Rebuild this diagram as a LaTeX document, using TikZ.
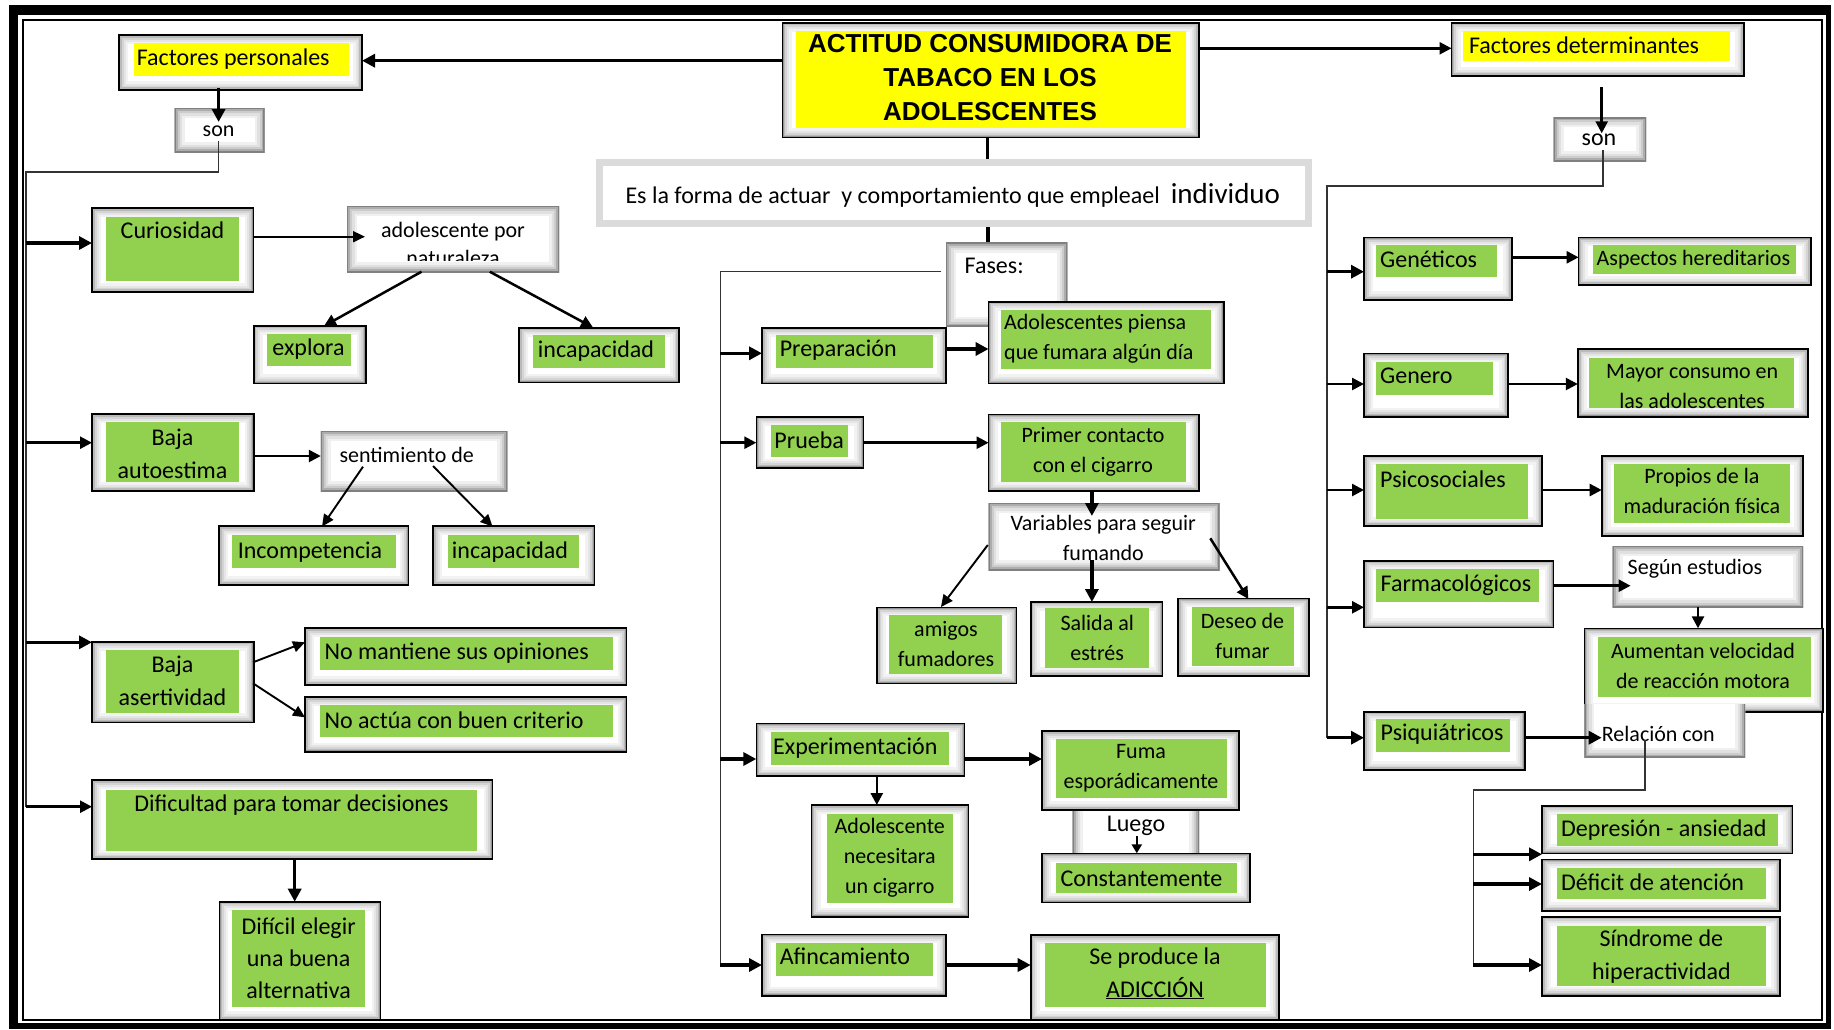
\documentclass[tikz,border=0pt]{standalone}
\usepackage{fontspec}
\setmainfont{Carlito}
\newfontfamily\titlefont{Liberation Sans}
\usetikzlibrary{arrows.meta,fit,calc}
\definecolor{grn}{HTML}{92D050}
\definecolor{ylw}{HTML}{FFFF00}
\begin{document}
\begin{tikzpicture}[x=1pt,y=-1pt,
  inshadow/.style={path picture={
    \foreach \w/\c in {18/5,13/10,9/17,5.5/27,2.5/42}{
      \draw[line width=\w pt, black!\c] (path picture bounding box.south west) rectangle (path picture bounding box.north east);}}},
  wshadow/.style={path picture={
    \foreach \w/\c in {20/6,15/12,10/20,6/32,2.5/50}{
      \draw[line width=\w pt, black!\c] (path picture bounding box.south west) rectangle (path picture bounding box.north east);}}},
  wshadowopen/.style={path picture={
    \foreach \w/\c in {20/6,15/12,10/20,6/32,2.5/50}{
      \draw[line width=\w pt, black!\c] (path picture bounding box.south west) rectangle ([yshift=30pt]path picture bounding box.north east);}}},
  gbx/.style={draw=black, line width=1.6pt, fill=white, inner sep=0pt, outer sep=0pt, inshadow},
  wbx/.style={draw=none, fill=white, inner sep=0pt, outer sep=0pt, wshadow},
  wbxo/.style={draw=none, fill=white, inner sep=0pt, outer sep=0pt, wshadowopen},
  dbox/.style={draw=black!14, line width=7pt, fill=white, inner sep=0pt, outer sep=0pt},
  t24/.style={font=\fontsize{24}{33}\selectfont, inner sep=0pt, align=center},
  t22/.style={font=\fontsize{22}{30}\selectfont, inner sep=0pt, align=center},
  ttl/.style={font=\titlefont\bfseries\fontsize{26}{34}\selectfont, inner sep=0pt, align=center},
  arrA/.style={line width=3.5pt, -{Triangle[length=13pt,width=13pt]}},
  arrB/.style={line width=2.5pt, -{Triangle[length=12pt,width=12pt]}},
  arrC/.style={line width=1.9pt, -{Triangle[length=12pt,width=11pt]}},
  arrS/.style={line width=2.6pt, -{Triangle[length=9pt,width=10pt]}},
  lnk/.style={line width=1.5pt, black!80}
]
\useasboundingbox (0,0) rectangle (1834,1029);
% frame
\fill[black] (8.6,5) rectangle (1831,1029);
\fill[white] (17.5,15) rectangle (1826,1023);
\draw[line width=2pt] (23,20) rectangle (1822,1020);

% ---------------- left column ----------------
\node[gbx,fit={(119,35)(362,90)}] (fp) {};
\fill[ylw] (134,42.7) rectangle (348.5,76);
\node[t24,anchor=west] (fpt) at (136.6,59) {Factores personales};

\node[wbx,fit={(174.5,108)(264.6,152)}] (sonL) {};
\node[t22] (sonLt) at (218.6,131) {son};
\draw[arrA] (218.6,88) -- (218.6,122);

\coordinate (busLtop) at (26,172);
\coordinate (busLbot) at (26,807);
\draw[lnk] (218.6,141) |- (busLtop) -- (busLbot);

\node[gbx,fit={(92,208)(253.5,292)}] (cur) {};
\fill[grn] (106,217) rectangle (239,281);
\node[t24] (curt) at (172.5,230) {Curiosidad};
\draw[arrA] (26,243) -- (cur.west |- 0,243);

\node[wbx,fit={(347,206)(559,272)}] (adol) {};
\begin{scope}
\clip (347,200) rectangle (559,260.5);
\node[t22,font=\fontsize{22}{28}\selectfont] (adolt) at (453,244) {adolescente por\\naturaleza};
\end{scope}
\draw[arrC] (cur.east |- 0,236.7) -- (365,236.7);

\node[gbx,fit={(253.7,325.7)(365.7,383.3)}] (expl) {};
\fill[grn] (266.6,334) rectangle (351,366);
\node[t24] (explt) at (308.5,349) {explora};
\draw[arrB] (421.5,271.7) -- (324,326);

\node[gbx,fit={(519,327.7)(679,382.5)}] (inca) {};
\fill[grn] (532.7,335) rectangle (664.7,368);
\node[t24] (incat) at (596,351) {incapacidad};
\draw[arrB] (489.8,271.7) -- (593,327.5);

\node[gbx,fit={(92,414)(253.7,491)}] (bae) {};
\fill[grn] (106,421.7) rectangle (239,481.7);
\node[t24] (baet) at (172.5,453.7) {Baja\\autoestima};
\draw[arrB] (26,442.7) -- (bae.west |- 0,442.7);

\node[wbx,fit={(320.8,431)(507.4,491)}] (sent) {};
\node[t22] (sentt) at (406.7,455) {sentimiento de};
\draw[arrB] (bae.east |- 0,456) -- (sent.west |- 0,456);

\node[gbx,fit={(219,526)(408.6,585)}] (incomp) {};
\fill[grn] (232,535) rectangle (395.8,567.7);
\node[t24] (incompt) at (310,551.7) {Incompetencia};
\node[gbx,fit={(433,526)(594.4,585)}] (incb) {};
\fill[grn] (447.7,535) rectangle (578.8,567.7);
\node[t24] (incbt) at (510,551.7) {incapacidad};
\draw[arrC] (363,466.7) -- (322,526.5);
\draw[arrC] (433,466) -- (492.5,526.5);

\node[gbx,fit={(92,641.7)(253.7,722.3)}] (bas) {};
\fill[grn] (106,650) rectangle (239,713.3);
\node[t24] (bast) at (172.5,680.5) {Baja\\asertividad};
\draw[arrA] (26,642.3) -- (bas.west |- 0,642.3);

\node[gbx,fit={(305,628)(626.6,685)}] (nomant) {};
\fill[grn] (319.8,636.7) rectangle (613,670);
\node[t24,anchor=west] (nomantt) at (324.4,652.7) {No mantiene sus opiniones};
\node[gbx,fit={(305,697)(626.6,751.7)}] (noact) {};
\fill[grn] (319.8,705) rectangle (613,736.7);
\node[t24,anchor=west] (noactt) at (324.4,720) {No actúa con buen criterio};
\draw[arrC] (253,662.3) -- (nomant.west |- 0,642.3);
\draw[arrC] (253,683.3) -- (noact.west |- 0,717.3);

\node[gbx,fit={(92,780)(492.6,859)}] (dif) {};
\fill[grn] (106,790) rectangle (477,850.7);
\node[t24] (dift) at (291.5,805) {Dificultad para tomar decisiones};
\draw[arrB] (26,806.7) -- (dif.west |- 0,806.7);

\node[gbx,fit={(219.3,901.7)(380.5,1020)}] (dificil) {};
\fill[grn] (232,910) rectangle (365,1006.7);
\node[t24,font=\fontsize{24}{32}\selectfont] (dificilt) at (298.6,958) {Difícil elegir\\una buena\\alternativa};
\draw[arrA] (294.7,859) -- (dificil.north -| 294.7,0);

% ---------------- middle column ----------------
\node[gbx,fit={(782.5,22.7)(1198.8,137.3)}] (title) {};
\fill[ylw] (796,31) rectangle (1185.8,127.7);
\node[ttl] (titlet) at (990,77.3) {ACTITUD CONSUMIDORA DE\\TABACO EN LOS\\ADOLESCENTES};
\draw[arrA] (title.west |- 0,60.7) -- (fp.east |- 0,60.7);

\node[dbox,fit={(599.5,162.8)(1308.5,223.2)}] (desc) {};
\node[inner sep=0pt,anchor=west,font=\fontsize{24}{30}\selectfont] (desct) at (625.3,195) {Es la forma de actuar\ \ y comportamiento que empleael\ \ {\fontsize{29}{30}\selectfont individuo}};
\draw[line width=3pt] (987.8,137.3) -- (987.8,159.3);
\draw[arrA] (987.8,226.7) -- (987.8,255);

\node[wbx,fit={(946,242.7)(1067.4,326.7)}] (fases) {};
\node[t24,anchor=west] (fasest) at (964.5,265.7) {Fases:};
\coordinate (busMtop) at (720.4,271.7);
\coordinate (busMbot) at (720.4,965);
\draw[lnk] (941,271.7) -- (busMtop) -- (busMbot);

\node[gbx,fit={(762,327.7)(946,383.3)}] (prep) {};
\fill[grn] (775.5,335) rectangle (932.7,368.3);
\node[t24,anchor=west] (prept) at (779.6,350) {Preparación};
\draw[arrA] (720.4,353.3) -- (prep.west |- 0,353.3);

\node[gbx,fit={(988.6,301.7)(1223.7,383.3)}] (piensa) {};
\fill[grn] (1000.9,310) rectangle (1211,369.3);
\node[t22,anchor=west,align=left] (piensat) at (1004,338.3) {Adolescentes piensa\\que fumara algún día};
\draw[arrA] (prep.east |- 0,349) -- (piensa.west |- 0,349);

\node[gbx,fit={(756.3,416.7)(863.3,467.7)}] (prueba) {};
\fill[grn] (770.6,425) rectangle (847.8,456.7);
\node[t24] (pruebat) at (809.2,440) {Prueba};
\draw[arrB] (720.4,442.7) -- (prueba.west |- 0,442.7);

\node[gbx,fit={(988.6,414.3)(1198.8,491)}] (primer) {};
\fill[grn] (1000.9,421.7) rectangle (1185.8,481.7);
\node[t22] (primert) at (1093,451.7) {Primer contacto\\con el cigarro};
\draw[arrB] (prueba.east |- 0,442.7) -- (primer.west |- 0,442.7);

\node[wbx,fit={(988.6,503)(1219.7,570)}] (vars) {};
\node[t22] (varst) at (1103.3,538) {Variables para seguir\\fumando};
\draw[arrA] (1091.9,491) -- (1091.9,516);

\node[gbx,fit={(876.8,607.3)(1016.4,683.3)}] (amigos) {};
\fill[grn] (889,615) rectangle (1002,674.3);
\node[t22] (amigost) at (946,644.3) {amigos\\fumadores};

\node[gbx,fit={(1030.7,601.7)(1162.5,676)}] (salida) {};
\fill[grn] (1045,608.3) rectangle (1149,667.7);
\node[t22] (salidat) at (1097.2,638) {Salida al\\estrés};

\node[gbx,fit={(1178,598.3)(1308.8,676)}] (deseo) {};
\fill[grn] (1191.5,606.7) rectangle (1294,665.7);
\node[t22] (deseot) at (1242.5,635.5) {Deseo de\\fumar};

\draw[arrC] (987.8,545) -- (940.9,607);
\draw[arrA] (1091.9,560) -- (1091.9,602);
\draw[arrB] (1210.3,538.3) -- (1248.4,599);

\node[gbx,fit={(756.3,723.3)(964.5,776)}] (exper) {};
\fill[grn] (770.6,731.7) rectangle (949,765);
\node[t24,anchor=west] (expert) at (773,748.3) {Experimentación};
\draw[arrA] (720.4,759) -- (exper.west |- 0,759);

\node[gbx,fit={(811.5,805)(968.6,916.7)}] (necesita) {};
\fill[grn] (826.6,814) rectangle (953,903.3);
\node[t22] (necesitat) at (889.8,857.7) {Adolescente\\necesitara\\un cigarro};
\draw[arrB] (876.8,776) -- (876.8,805);

\node[wbx,fit={(1072.7,795)(1199.2,865)}] (luego) {};
\node[gbx,fit={(1042,731)(1238.8,810)}] (fuma) {};
\fill[grn] (1056.4,739.3) rectangle (1226.6,798.3);
\node[t22] (fumat) at (1141,768.3) {Fuma\\esporádicamente};
\draw[arrA] (exper.east |- 0,759) -- (fuma.west |- 0,759);

\node[gbx,fit={(1042,853.3)(1250,902.3)}] (const) {};
\fill[grn] (1056.4,863.3) rectangle (1236.7,893.3);
\node[t24,anchor=west] (constt) at (1060.4,878.3) {Constantemente};
\node[t24] (luegot) at (1136,826) {Luego};
\draw[arrS] (1136.8,836) -- (const.north -| 1136.8,0);

\node[gbx,fit={(762,934.3)(946,995.7)}] (afin) {};
\fill[grn] (775.5,943.3) rectangle (932.7,975.7);
\node[t24,anchor=west] (afint) at (779.6,956.7) {Afincamiento};
\draw[arrA] (720.4,965) -- (afin.west |- 0,965);

\node[gbx,fit={(1030.7,935)(1279,1020)}] (adic) {};
\fill[grn] (1045,943.3) rectangle (1266,1006.7);
\node[t24] (adict) at (1155,973.3) {Se produce la\\\underline{ADICCIÓN}};
\draw[arrA] (afin.east |- 0,965) -- (adic.west |- 0,965);

% ---------------- right column ----------------
\node[gbx,fit={(1451.5,22.7)(1744.2,76)}] (fd) {};
\fill[ylw] (1463,30.7) rectangle (1730,61);
\node[t24,anchor=west] (fdt) at (1468.8,45) {Factores determinantes};
\draw[arrB] (title.east |- 0,48.3) -- (fd.west |- 0,48.3);

\node[wbx,fit={(1553.6,117.3)(1646,161)}] (sonR) {};
\node[t24] (sonRt) at (1599,140) {son};
\draw[arrB] (1601.7,87.3) -- (1601.7,133.3);

\coordinate (busRtop) at (1327,186);
\coordinate (busRbot) at (1327,737.7);
\draw[lnk] (1603,150) |- (busRtop) -- (busRbot);

\node[gbx,fit={(1364,237.3)(1512,300)}] (gen) {};
\fill[grn] (1376.4,245) rectangle (1496.6,276.7);
\node[t24,anchor=west] (gent) at (1380,259.3) {Genéticos};
\draw[arrA] (1327,271.7) -- (gen.west |- 0,271.7);

\node[gbx,fit={(1578.6,237.3)(1810.9,285)}] (asp) {};
\fill[grn] (1592.9,245) rectangle (1795.5,274);
\node[t22,anchor=west] (aspt) at (1596.5,259.3) {Aspectos hereditarios};
\draw[arrB] (gen.east |- 0,257.3) -- (asp.west |- 0,257.3);

\node[gbx,fit={(1364,353.3)(1508,416.7)}] (genero) {};
\fill[grn] (1376.4,361.7) rectangle (1493,395);
\node[t24,anchor=west] (generot) at (1380,376) {Genero};
\draw[arrB] (1327,384) -- (genero.west |- 0,384);

\node[gbx,fit={(1577.8,349)(1807.8,416.7)}] (mayor) {};
\fill[grn] (1589.4,357.7) rectangle (1794.3,408.3);
\node[t22] (mayort) at (1692.2,386.2) {Mayor consumo en\\las adolescentes};
\draw[arrB] (genero.east |- 0,384) -- (mayor.west |- 0,384);

\node[gbx,fit={(1364,455.7)(1542,526)}] (psico) {};
\fill[grn] (1376.4,464) rectangle (1527.8,519.3);
\node[t24,anchor=west] (psicot) at (1380,479) {Psicosociales};
\draw[arrB] (1327,490) -- (psico.west |- 0,490);

\node[gbx,fit={(1601.7,455.7)(1803.2,536)}] (propios) {};
\fill[grn] (1614,464) rectangle (1789.7,523.3);
\node[t22] (propiost) at (1701.9,491.3) {Propios de la\\maduración física};
\draw[arrB] (psico.east |- 0,490) -- (propios.west |- 0,490);

\node[gbx,fit={(1364,560.7)(1553.6,627.3)}] (farma) {};
\fill[grn] (1376.4,569.3) rectangle (1539.3,602.3);
\node[t24,anchor=west] (farmat) at (1380.5,585) {Farmacológicos};
\draw[arrB] (1327,607.3) -- (farma.west |- 0,607.3);

\node[wbx,fit={(1612.5,546)(1803.2,607.7)}] (segun) {};
\node[t22,anchor=west] (segunt) at (1627.5,568.3) {Según estudios};
\draw[arrB] (farma.east |- 0,585.7) -- (1630.6,585.7);

\node[gbx,fit={(1584.4,628.3)(1823,711.7)}] (aum) {};
\node[wbxo,fit={(1584.4,704)(1745,757.5)}] (rel) {};
\fill[grn] (1597.9,636.7) rectangle (1810.5,696.7);
\node[t22] (aumt) at (1703,666.2) {Aumentan velocidad\\de reacción motora};
\node[t22,anchor=west] (relt) at (1601.7,734) {Relación con};
\draw[arrB] (1698,606.7) -- (aum.north -| 1698,0);

\node[gbx,fit={(1364,711.7)(1524.7,770)}] (psiq) {};
\fill[grn] (1376.4,719.3) rectangle (1510,751.7);
\node[t24,anchor=west] (psiqt) at (1380.5,734) {Psiquiátricos};
\draw[arrA] (1327,737.7) -- (psiq.west |- 0,737.7);
\draw[arrA] (psiq.east |- 0,737.7) -- (1601.7,737.7);

\coordinate (busR2top) at (1473.4,790);
\coordinate (busR2bot) at (1473.4,965);
\draw[lnk] (1645.2,740) |- (busR2top) -- (busR2bot);

\node[gbx,fit={(1542,805.7)(1792.4,853.3)}] (dep) {};
\fill[grn] (1556.7,814) rectangle (1777.8,846);
\node[t24,anchor=west] (dept) at (1561,830) {Depresión - ansiedad};
\node[gbx,fit={(1542,859.3)(1780,911)}] (def) {};
\fill[grn] (1556.7,867.7) rectangle (1766.2,899.3);
\node[t24,anchor=west] (deft) at (1561,882.3) {Déficit de atención};
\node[gbx,fit={(1542,916.7)(1780,995.7)}] (sind) {};
\fill[grn] (1556.7,925.7) rectangle (1766.2,985.7);
\node[t24] (sindt) at (1661.4,956.7) {Síndrome de\\hiperactividad};
\draw[arrA] (1473.4,854.3) -- (dep.west |- 0,854.3);
\draw[arrA] (1473.4,884) -- (def.west |- 0,884);
\draw[arrA] (1473.4,965) -- (sind.west |- 0,965);
\end{tikzpicture}
\end{document}
